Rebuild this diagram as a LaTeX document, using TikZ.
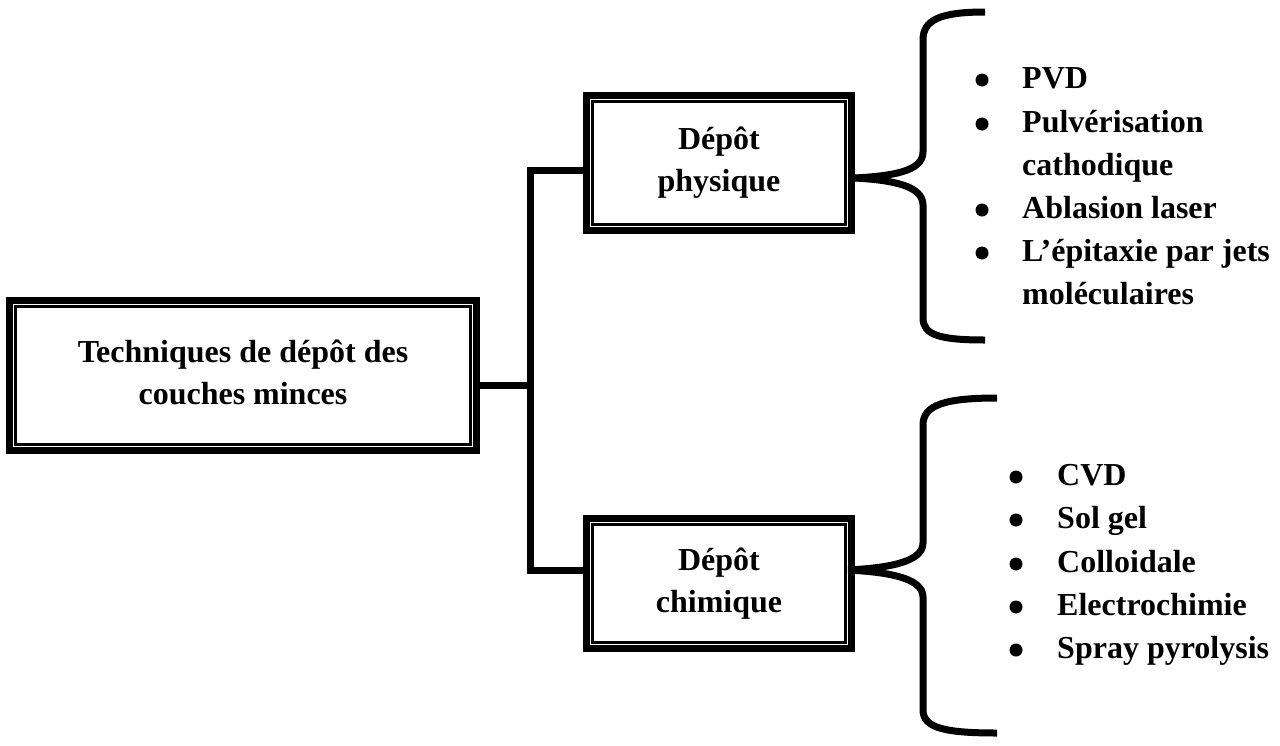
\documentclass[tikz,border=0pt]{standalone}
\usepackage{fontspec}
\setmainfont{Liberation Serif}
\begin{document}
\begin{tikzpicture}[x=1pt,y=-1pt,
  boxnode/.style={draw=black, line width=8pt, align=center, inner sep=0pt,
    font=\fontsize{32}{42}\selectfont\bfseries},
  innerline/.style={draw=black, double=white, line width=3.4pt, double distance=1.1pt},
  conn/.style={line width=7pt, line join=miter},
  brace/.style={line width=7pt, line cap=butt},
  itemtext/.style={anchor=base west, inner sep=0pt, font=\fontsize{32}{42}\selectfont\bfseries},
  dot/.style={fill=black}]
\useasboundingbox (0,0) rectangle (1280,745);

% boxes
\node[boxnode, minimum width=466pt, minimum height=149pt] (main) at (243,375.5)
  {Techniques de dépôt des\\couches minces\vphantom{p}};
\node[boxnode, minimum width=264pt, minimum height=134pt] (phys) at (719,163)
  {Dépôt\\physique};
\node[boxnode, minimum width=264pt, minimum height=129pt] (chim) at (719,583.5)
  {Dépôt\\chimique};
\foreach \n in {main,phys,chim}{
  \draw[innerline] ([shift={(7.5,7.5)}]\n.north west) rectangle ([shift={(-7.5,-7.5)}]\n.south east);
}

% tree connectors
\coordinate (hub) at (530.5,385.5);
\coordinate (top) at (530.5,170.5);
\coordinate (bot) at (530.5,570);
\draw[conn] (phys.west |- top) -- (top) -- (bot) -- (chim.west |- bot);
\draw[conn] (main.east |- hub) -- (hub);

% braces
\coordinate (t1) at (855,178);
\draw[brace] (t1) .. controls (890,176) and (923,172) .. (923,152) -- (923,40)
  .. controls (923,20) and (940,12) .. (985,12);
\draw[brace] (t1) .. controls (890,180) and (923,185) .. (923,205) -- (923,318)
  .. controls (923,335) and (940,340) .. (985,340);
\coordinate (t2) at (848,570);
\draw[brace] (t2) .. controls (885,568) and (923,563) .. (923,543) -- (923,425)
  .. controls (923,405) and (945,398) .. (997,398);
\draw[brace] (t2) .. controls (885,572) and (923,577) .. (923,597) -- (923,710)
  .. controls (923,728) and (945,733) .. (997,733);

% list 1
\foreach \y in {80,124,210,253}{ \fill[dot] (982,\y) circle[radius=6.5pt]; }
\node[itemtext] (a1) at (1022,88) {PVD};
\node[itemtext] (a2) at (1022,132) {Pulvérisation};
\node[itemtext] (a3) at (1022,175) {cathodique};
\node[itemtext] (a4) at (1022,218) {Ablasion laser};
\node[itemtext] (a5) at (1022,261) {L’épitaxie par jets};
\node[itemtext] (a6) at (1022,304) {moléculaires};

% list 2
\foreach \y in {477,520,564,607,650}{ \fill[dot] (1016,\y) circle[radius=6.5pt]; }
\node[itemtext] (b1) at (1057,485) {CVD};
\node[itemtext] (b2) at (1057,528) {Sol gel};
\node[itemtext] (b3) at (1057,572) {Colloidale};
\node[itemtext] (b4) at (1057,615) {Electrochimie};
\node[itemtext] (b5) at (1057,658) {Spray pyrolysis};
\end{tikzpicture}
\end{document}
